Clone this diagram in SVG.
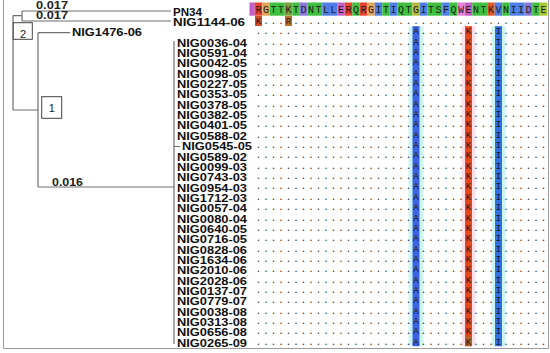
<svg xmlns="http://www.w3.org/2000/svg" width="550" height="353" viewBox="0 0 550 353">
<style>
.lbl{font-family:"Liberation Sans",Arial,sans-serif;font-weight:bold;font-size:10px;fill:#111}
.num{font-family:"Liberation Sans",Arial,sans-serif;font-weight:bold;font-size:10px;fill:#222}
.box{fill:#fff;stroke:#444;stroke-width:1}
.boxt{font-family:"Liberation Sans",Arial,sans-serif;font-size:11px;fill:#222;text-anchor:middle}
.br{fill:none;stroke:#6e6e6e;stroke-width:1.2}
.aln{font-family:"Liberation Mono","Courier New",monospace;font-size:9px;letter-spacing:2.1px;fill:#1a1a1a}
.top{font-size:10px;letter-spacing:1.5px}
.r{fill:#e8432e}.o{fill:#e2a35a}.g{fill:#3fbf3f}.ol{fill:#7da13a}.v{fill:#8a78d8}.b{fill:#4f7fe6}.m{fill:#c55fc8}.p{fill:#e77fd8}.y{fill:#b5b840}.k{fill:#d95a28}.yg{fill:#a8c83a}
</style>
<defs>
<clipPath id="alnclip"><rect x="249.5" y="0" width="298" height="353"/></clipPath>
</defs>
<path d="M3.5,0 V348.5 H548.5 V0" fill="none" stroke="#9a9a9a" stroke-width="1"/>
<g id="connectors">
<path class="br" d="M13,15.7 V110 M13,15.7 H22 M22,11 V21 M22,11 H171 M22,21 H171 M13,110 H38 M38,32.7 V187 M38,32.7 H70 M38,187 H174 M174,41 V344 M174,146.5 H180"/>
</g>
<g id="branch-lengths">
<text class="num" x="36" y="9" textLength="32" lengthAdjust="spacingAndGlyphs">0.017</text>
<text class="num" x="36" y="19.3" textLength="32" lengthAdjust="spacingAndGlyphs">0.017</text>
<text class="num" x="52" y="185.7" textLength="31" lengthAdjust="spacingAndGlyphs">0.016</text>
</g>
<g id="node-2"><rect class="box" x="13.3" y="22.7" width="19" height="16.6"/><text class="boxt" x="23" y="38.3">2</text></g>
<g id="node-1"><rect class="box" x="41.7" y="96.7" width="20" height="21.6"/><text class="boxt" x="51.7" y="112">1</text></g>
<g id="leaves">
<text class="lbl" x="173" y="15.6" textLength="29" lengthAdjust="spacingAndGlyphs">PN34</text>
<text class="lbl" x="173" y="25.95" textLength="72" lengthAdjust="spacingAndGlyphs">NIG1144-06</text>
<text class="lbl" x="72" y="36.3" textLength="70" lengthAdjust="spacingAndGlyphs">NIG1476-06</text>
<text class="lbl" x="177" y="46.65" textLength="70" lengthAdjust="spacingAndGlyphs">NIG0036-04</text>
<text class="lbl" x="177" y="57" textLength="70" lengthAdjust="spacingAndGlyphs">NIG0591-04</text>
<text class="lbl" x="177" y="67.35" textLength="70" lengthAdjust="spacingAndGlyphs">NIG0042-05</text>
<text class="lbl" x="177" y="77.7" textLength="70" lengthAdjust="spacingAndGlyphs">NIG0098-05</text>
<text class="lbl" x="177" y="88.05" textLength="70" lengthAdjust="spacingAndGlyphs">NIG0227-05</text>
<text class="lbl" x="177" y="98.4" textLength="70" lengthAdjust="spacingAndGlyphs">NIG0353-05</text>
<text class="lbl" x="177" y="108.75" textLength="70" lengthAdjust="spacingAndGlyphs">NIG0378-05</text>
<text class="lbl" x="177" y="119.1" textLength="70" lengthAdjust="spacingAndGlyphs">NIG0382-05</text>
<text class="lbl" x="177" y="129.45" textLength="70" lengthAdjust="spacingAndGlyphs">NIG0401-05</text>
<text class="lbl" x="177" y="139.8" textLength="70" lengthAdjust="spacingAndGlyphs">NIG0588-02</text>
<text class="lbl" x="182" y="150.15" textLength="70" lengthAdjust="spacingAndGlyphs">NIG0545-05</text>
<text class="lbl" x="177" y="160.5" textLength="70" lengthAdjust="spacingAndGlyphs">NIG0589-02</text>
<text class="lbl" x="177" y="170.85" textLength="70" lengthAdjust="spacingAndGlyphs">NIG0099-03</text>
<text class="lbl" x="177" y="181.2" textLength="70" lengthAdjust="spacingAndGlyphs">NIG0743-03</text>
<text class="lbl" x="177" y="191.55" textLength="70" lengthAdjust="spacingAndGlyphs">NIG0954-03</text>
<text class="lbl" x="177" y="201.9" textLength="70" lengthAdjust="spacingAndGlyphs">NIG1712-03</text>
<text class="lbl" x="177" y="212.25" textLength="70" lengthAdjust="spacingAndGlyphs">NIG0057-04</text>
<text class="lbl" x="177" y="222.6" textLength="70" lengthAdjust="spacingAndGlyphs">NIG0080-04</text>
<text class="lbl" x="177" y="232.95" textLength="70" lengthAdjust="spacingAndGlyphs">NIG0640-05</text>
<text class="lbl" x="177" y="243.3" textLength="70" lengthAdjust="spacingAndGlyphs">NIG0716-05</text>
<text class="lbl" x="177" y="253.65" textLength="70" lengthAdjust="spacingAndGlyphs">NIG0828-06</text>
<text class="lbl" x="177" y="264" textLength="70" lengthAdjust="spacingAndGlyphs">NIG1634-06</text>
<text class="lbl" x="177" y="274.35" textLength="70" lengthAdjust="spacingAndGlyphs">NIG2010-06</text>
<text class="lbl" x="177" y="284.7" textLength="70" lengthAdjust="spacingAndGlyphs">NIG2028-06</text>
<text class="lbl" x="177" y="295.05" textLength="70" lengthAdjust="spacingAndGlyphs">NIG0137-07</text>
<text class="lbl" x="177" y="305.4" textLength="70" lengthAdjust="spacingAndGlyphs">NIG0779-07</text>
<text class="lbl" x="177" y="315.75" textLength="70" lengthAdjust="spacingAndGlyphs">NIG0038-08</text>
<text class="lbl" x="177" y="326.1" textLength="70" lengthAdjust="spacingAndGlyphs">NIG0313-08</text>
<text class="lbl" x="177" y="336.45" textLength="70" lengthAdjust="spacingAndGlyphs">NIG0656-08</text>
<text class="lbl" x="177" y="346.8" textLength="70" lengthAdjust="spacingAndGlyphs">NIG0265-09</text>
</g>
<g id="alignment" clip-path="url(#alnclip)">
<g id="reference-colours">
<rect class="m" x="247.25" y="2.5" width="7.5" height="13.2"/>
<rect class="r" x="254.75" y="2.5" width="7.5" height="13.2"/>
<rect class="o" x="262.25" y="2.5" width="7.5" height="13.2"/>
<rect class="g" x="269.75" y="2.5" width="15" height="13.2"/>
<rect class="ol" x="284.75" y="2.5" width="7.5" height="13.2"/>
<rect class="g" x="292.25" y="2.5" width="7.5" height="13.2"/>
<rect class="v" x="299.75" y="2.5" width="7.5" height="13.2"/>
<rect class="g" x="307.25" y="2.5" width="15" height="13.2"/>
<rect class="b" x="322.25" y="2.5" width="15" height="13.2"/>
<rect class="m" x="337.25" y="2.5" width="7.5" height="13.2"/>
<rect class="r" x="344.75" y="2.5" width="7.5" height="13.2"/>
<rect class="g" x="352.25" y="2.5" width="7.5" height="13.2"/>
<rect class="r" x="359.75" y="2.5" width="7.5" height="13.2"/>
<rect class="o" x="367.25" y="2.5" width="7.5" height="13.2"/>
<rect class="b" x="374.75" y="2.5" width="7.5" height="13.2"/>
<rect class="g" x="382.25" y="2.5" width="7.5" height="13.2"/>
<rect class="b" x="389.75" y="2.5" width="7.5" height="13.2"/>
<rect class="g" x="397.25" y="2.5" width="15" height="13.2"/>
<rect class="y" x="412.25" y="2.5" width="7.5" height="13.2"/>
<rect class="b" x="419.75" y="2.5" width="7.5" height="13.2"/>
<rect class="g" x="427.25" y="2.5" width="15" height="13.2"/>
<rect class="b" x="442.25" y="2.5" width="7.5" height="13.2"/>
<rect class="g" x="449.75" y="2.5" width="7.5" height="13.2"/>
<rect class="p" x="457.25" y="2.5" width="7.5" height="13.2"/>
<rect class="m" x="464.75" y="2.5" width="7.5" height="13.2"/>
<rect class="g" x="472.25" y="2.5" width="15" height="13.2"/>
<rect class="k" x="487.25" y="2.5" width="7.5" height="13.2"/>
<rect class="b" x="494.75" y="2.5" width="7.5" height="13.2"/>
<rect class="g" x="502.25" y="2.5" width="7.5" height="13.2"/>
<rect class="b" x="509.75" y="2.5" width="15" height="13.2"/>
<rect class="v" x="524.75" y="2.5" width="7.5" height="13.2"/>
<rect class="g" x="532.25" y="2.5" width="7.5" height="13.2"/>
<rect class="yg" x="539.75" y="2.5" width="8" height="13.2"/>
</g>
<g id="variant-colours">
<rect x="255" y="16" width="7" height="10" fill="#cf4f2a"/>
<rect x="285" y="16" width="7" height="10" fill="#b8742c"/>
<rect x="408.5" y="26.2" width="15" height="320" fill="#cdf4f4"/>
<rect x="461.5" y="26.2" width="14" height="320" fill="#fbe0ec"/>
<rect x="491.5" y="26.2" width="14" height="320" fill="#cdf4f4"/>
<rect x="412.5" y="26.2" width="7" height="320" fill="#3d63df"/>
<rect x="465" y="26.2" width="7" height="320" fill="#e24a1e"/>
<rect x="495" y="26.2" width="7" height="320" fill="#3070e0"/>
<rect x="465" y="336.6" width="7" height="9.6" fill="#a8672a"/>
</g>
<g id="residues">
<text class="aln top" x="255.5" y="12.8">RGTTKTDNTLLERQRGITIQTGITSFQWENTKVNIIDTE</text>
<text class="aln" x="255.8" y="23.85">K...R..................................</text>
<text class="aln" x="255.8" y="34.2">.....................A......K...I......</text>
<text class="aln" x="255.8" y="44.55">.....................A......K...I......</text>
<text class="aln" x="255.8" y="54.9">.....................A......K...I......</text>
<text class="aln" x="255.8" y="65.25">.....................A......K...I......</text>
<text class="aln" x="255.8" y="75.6">.....................A......K...I......</text>
<text class="aln" x="255.8" y="85.95">.....................A......K...I......</text>
<text class="aln" x="255.8" y="96.3">.....................A......K...I......</text>
<text class="aln" x="255.8" y="106.65">.....................A......K...I......</text>
<text class="aln" x="255.8" y="117">.....................A......K...I......</text>
<text class="aln" x="255.8" y="127.35">.....................A......K...I......</text>
<text class="aln" x="255.8" y="137.7">.....................A......K...I......</text>
<text class="aln" x="255.8" y="148.05">.....................A......K...I......</text>
<text class="aln" x="255.8" y="158.4">.....................A......K...I......</text>
<text class="aln" x="255.8" y="168.75">.....................A......K...I......</text>
<text class="aln" x="255.8" y="179.1">.....................A......K...I......</text>
<text class="aln" x="255.8" y="189.45">.....................A......K...I......</text>
<text class="aln" x="255.8" y="199.8">.....................A......K...I......</text>
<text class="aln" x="255.8" y="210.15">.....................A......K...I......</text>
<text class="aln" x="255.8" y="220.5">.....................A......K...I......</text>
<text class="aln" x="255.8" y="230.85">.....................A......K...I......</text>
<text class="aln" x="255.8" y="241.2">.....................A......K...I......</text>
<text class="aln" x="255.8" y="251.55">.....................A......K...I......</text>
<text class="aln" x="255.8" y="261.9">.....................A......K...I......</text>
<text class="aln" x="255.8" y="272.25">.....................A......K...I......</text>
<text class="aln" x="255.8" y="282.6">.....................A......K...I......</text>
<text class="aln" x="255.8" y="292.95">.....................A......K...I......</text>
<text class="aln" x="255.8" y="303.3">.....................A......K...I......</text>
<text class="aln" x="255.8" y="313.65">.....................A......K...I......</text>
<text class="aln" x="255.8" y="324">.....................A......K...I......</text>
<text class="aln" x="255.8" y="334.35">.....................A......K...I......</text>
<text class="aln" x="255.8" y="344.7">.....................A......K...I......</text>
</g>
</g>
</svg>
